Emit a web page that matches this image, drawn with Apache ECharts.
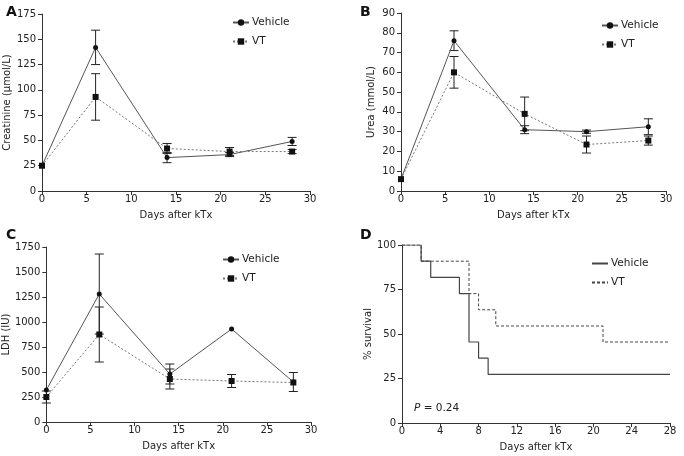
<!DOCTYPE html>
<html>
<head>
    <meta charset="utf-8">
    <title>kTx panels</title>
    <script src="https://cdn.jsdelivr.net/npm/echarts@6/dist/echarts.min.js"></script>
</head>
<body style="margin:0">
<div id="main" style="width: 684px;height:456px;"></div>
<script type="text/javascript">
    // days after transplantation
    var days = [0, 6, 14, 21, 28];

    // A: creatinine (umol/L) mean and error
    var creaVehicle = [25, 142, 33, 36, 49];
    var creaVehicleErr = [0, 17, 5, 2, 4];
    var creaVT = [25, 93, 42, 39, 39];
    var creaVTErr = [0, 23, 5, 4, 2];

    // B: urea (mmol/L)
    var ureaVehicle = [6, 76, 31, 30, 32.5];
    var ureaVehicleErr = [0, 5, 2, 0.8, 4];
    var ureaVT = [6, 60, 39, 23.5, 25.5];
    var ureaVTErr = [0, 8, 8.5, 4.3, 2.3];

    // C: LDH (IU)
    var ldhVehicle = [320, 1280, 480, 930, 400];
    var ldhVehicleErr = [0, 400, 100, 0, 95];
    var ldhVT = [250, 875, 430, 410, 395];
    var ldhVTErr = [60, 275, 100, 65, 0];

    // D: survival steps (day, % survival)
    var survVehicleDays = [0, 2, 3, 6, 7, 8, 9, 28];
    var survVehicle = [100, 90.9, 81.8, 72.7, 45.5, 36.4, 27.3, 27.3];
    var survVTDays = [0, 2, 7, 8, 9.8, 21, 28];
    var survVT = [100, 90.9, 72.7, 63.6, 54.5, 45.5, 45.5];

    var font = 'DejaVu Sans';
    var axisColor = '#333';

    function pairs(xs, ys) {
        var out = [];
        for (var i = 0; i < xs.length; i++) out.push([xs[i], ys[i]]);
        return out;
    }
    function errData(xs, ys, es) {
        var out = [];
        for (var i = 0; i < xs.length; i++) {
            if (es[i] > 0) out.push([xs[i], ys[i] - es[i], ys[i] + es[i]]);
        }
        return out;
    }
    function renderErr(params, api) {
        var lo = api.coord([api.value(0), api.value(1)]);
        var hi = api.coord([api.value(0), api.value(2)]);
        var w = 4.5;
        var st = { stroke: '#222', lineWidth: 1 };
        return {
            type: 'group',
            children: [
                { type: 'line', shape: { x1: lo[0], y1: lo[1], x2: hi[0], y2: hi[1] }, style: st },
                { type: 'line', shape: { x1: lo[0] - w, y1: lo[1], x2: lo[0] + w, y2: lo[1] }, style: st },
                { type: 'line', shape: { x1: hi[0] - w, y1: hi[1], x2: hi[0] + w, y2: hi[1] }, style: st }
            ]
        };
    }

    var grids = [
        { left: 42, right: 374, top: 14, bottom: 265 },
        { left: 401, right: 18, top: 13, bottom: 265 },
        { left: 44, right: 373, top: 247, bottom: 34 },
        { left: 402, right: 14, top: 245, bottom: 33 }
    ];

    function plain(v) { return String(v); }

    function xAxis(i, max, interval) {
        return {
            type: 'value', gridIndex: i, min: 0, max: max, interval: interval,
            name: 'Days after kTx', nameLocation: 'middle', nameGap: 19,
            nameTextStyle: { fontFamily: font, fontSize: 10, color: '#222' },
            axisLine: { lineStyle: { color: axisColor } },
            axisTick: { length: 4, lineStyle: { color: axisColor } },
            axisLabel: { fontFamily: font, fontSize: 10, color: '#222', margin: 3, formatter: plain },
            splitLine: { show: false }
        };
    }
    function yAxis(i, max, interval, name, gap) {
        return {
            type: 'value', gridIndex: i, min: 0, max: max, interval: interval,
            name: name, nameLocation: 'middle', nameGap: gap,
            nameTextStyle: { fontFamily: font, fontSize: 10, color: '#222' },
            axisLine: { show: true, lineStyle: { color: axisColor } },
            axisTick: { show: true, length: 4, lineStyle: { color: axisColor } },
            axisLabel: { fontFamily: font, fontSize: 10, color: '#222', margin: 6, formatter: plain },
            splitLine: { show: false }
        };
    }

    function lineSeries(name, i, data, dashed) {
        return {
            name: name, type: 'line', xAxisIndex: i, yAxisIndex: i,
            data: data,
            symbol: dashed ? 'rect' : 'circle',
            symbolSize: dashed ? 6 : 5,
            itemStyle: { color: '#111' },
            lineStyle: { color: dashed ? '#777' : '#555', width: 1, type: dashed ? [2, 2] : 'solid' },
            animation: false, z: 3
        };
    }
    function errSeries(i, data) {
        return {
            type: 'custom', xAxisIndex: i, yAxisIndex: i,
            data: data, renderItem: renderErr, animation: false, z: 2, silent: true
        };
    }

    function legend(left, top) {
        return {
            show: true, left: left, top: top, orient: 'vertical',
            itemWidth: 16, itemHeight: 8, itemGap: 8,
            data: ['Vehicle', 'VT'],
            textStyle: { fontFamily: font, fontSize: 10.5, color: '#222', padding: [0, 0, 0, -2] },
            padding: 0
        };
    }

    var dom = document.getElementById('main');
    var myChart = echarts.init(dom);

    var series = [
        errSeries(0, errData(days, creaVehicle, creaVehicleErr)),
        errSeries(0, errData(days, creaVT, creaVTErr)),
        lineSeries('Vehicle', 0, pairs(days, creaVehicle), false),
        lineSeries('VT', 0, pairs(days, creaVT), true),
        errSeries(1, errData(days, ureaVehicle, ureaVehicleErr)),
        errSeries(1, errData(days, ureaVT, ureaVTErr)),
        lineSeries('Vehicle', 1, pairs(days, ureaVehicle), false),
        lineSeries('VT', 1, pairs(days, ureaVT), true),
        errSeries(2, errData(days, ldhVehicle, ldhVehicleErr)),
        errSeries(2, errData(days, ldhVT, ldhVTErr)),
        lineSeries('Vehicle', 2, pairs(days, ldhVehicle), false),
        lineSeries('VT', 2, pairs(days, ldhVT), true),
        {
            name: 'Vehicle ', type: 'line', xAxisIndex: 3, yAxisIndex: 3, step: 'end',
            data: pairs(survVehicleDays, survVehicle), symbol: 'none',
            lineStyle: { color: '#444', width: 1.2 }, itemStyle: { color: '#444' }, animation: false
        },
        {
            name: 'VT ', type: 'line', xAxisIndex: 3, yAxisIndex: 3, step: 'end',
            data: pairs(survVTDays, survVT), symbol: 'none',
            lineStyle: { color: '#444', width: 1, type: [3, 2] }, itemStyle: { color: '#444' }, animation: false
        }
    ];

    var legD = legend(591, 258);
    legD.data = ['Vehicle ', 'VT '];
    legD.itemStyle = { color: 'rgba(0,0,0,0)', borderWidth: 0 };

    var option = {
        backgroundColor: '#fff',
        grid: grids,
        xAxis: [xAxis(0, 30, 5), xAxis(1, 30, 5), xAxis(2, 30, 5), xAxis(3, 28, 4)],
        yAxis: [
            yAxis(0, 175, 25, 'Creatinine (\u03bcmol/L)', 30),
            yAxis(1, 90, 10, 'Urea (mmol/L)', 25),
            yAxis(2, 1750, 250, 'LDH (IU)', 35),
            yAxis(3, 100, 25, '% survival', 28)
        ],
        legend: [legend(232, 17), legend(601, 20), legend(222, 254), legD],
        graphic: [
            { type: 'text', left: 6, top: 5, style: { text: 'A', font: 'bold 14px ' + font, fill: '#111' } },
            { type: 'text', left: 360, top: 5, style: { text: 'B', font: 'bold 14px ' + font, fill: '#111' } },
            { type: 'text', left: 6, top: 228, style: { text: 'C', font: 'bold 14px ' + font, fill: '#111' } },
            { type: 'text', left: 360, top: 228, style: { text: 'D', font: 'bold 14px ' + font, fill: '#111' } },
            {
                type: 'text', left: 414, top: 403,
                style: {
                    text: '{i|P} = 0.24',
                    rich: { i: { fontStyle: 'italic', fontFamily: font, fontSize: 10.5 } },
                    font: '10.5px ' + font, fill: '#222'
                }
            }
        ],
        series: series
    };

    if (option && typeof option === "object") {
        myChart.setOption(option);
    }
</script>
</body>
</html>
